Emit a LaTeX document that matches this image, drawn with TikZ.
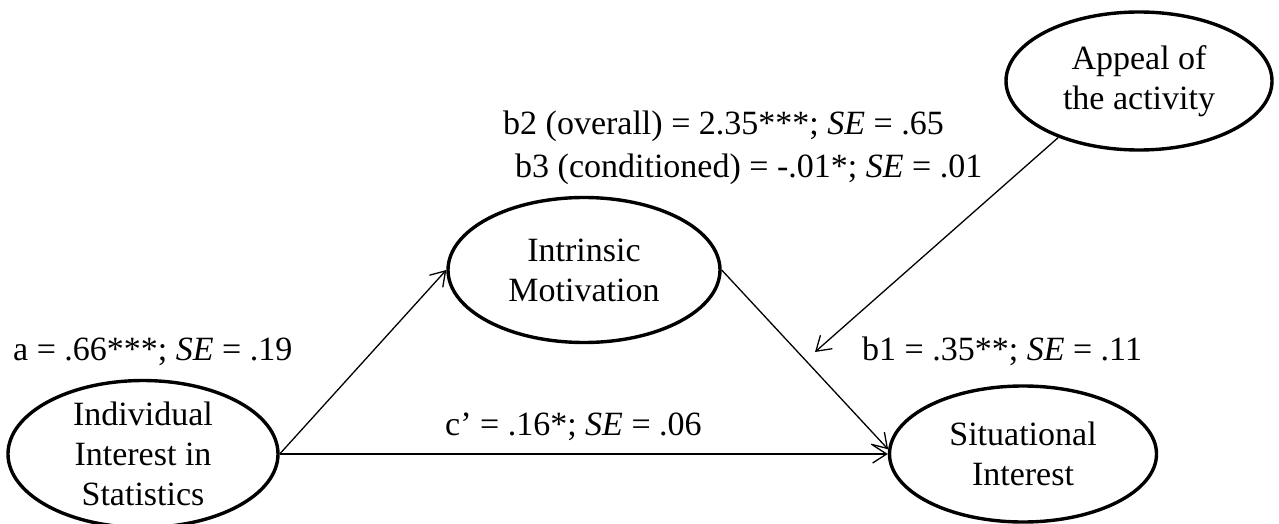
\documentclass[tikz,border=0pt]{standalone}
\usepackage{fontspec}
\setmainfont{Liberation Serif}
\usetikzlibrary{shapes.geometric,arrows.meta}
\tikzset{
  base/.style={font=\fontsize{34}{40}\selectfont},
  latent/.style={base,ellipse,draw,line width=3.4pt,inner sep=0pt,align=center},
  lbl/.style={base,anchor=base west,inner sep=0pt},
  arr/.style={line width=1.3pt,-{Straight Barb[length=14pt,width=18pt]}}
}
\begin{document}
\begin{tikzpicture}[x=1pt,y=-1pt]
\useasboundingbox (0,0) rectangle (1279,524);
\node[latent,minimum width=270pt,minimum height=139pt] (ind) at (143,454) {Individual\\Interest in\\Statistics};
\node[latent,minimum width=272pt,minimum height=145pt] (intr) at (584,270) {Intrinsic\\Motivation};
\node[latent,minimum width=267pt,minimum height=136pt] (sit) at (1023,454) {Situational\\Interest};
\node[latent,minimum width=266pt,minimum height=138pt] (app) at (1139,81) {Appeal of\\the activity};
\coordinate (mod) at (815,352);
\draw[arr] (ind.east) -- (intr.west);
\draw[arr] (ind.east) -- (sit.west);
\draw[arr] (intr.east) -- (sit.178);
\draw[arr] (app.215) -- (mod);
\node[lbl] (la) at (13,360) {a = .66***; \textit{SE} = .19};
\node[lbl] (lc) at (445,435) {c’ = .16*; \textit{SE} = .06};
\node[lbl] (lb1) at (862,360) {b1 = .35**; \textit{SE} = .11};
\node[lbl] (lb2) at (503,135) {b2 (overall) = 2.35***; \textit{SE} = .65};
\node[lbl] (lb3) at (515,177) {b3 (conditioned) = -.01*; \textit{SE} = .01};
\end{tikzpicture}
\end{document}
